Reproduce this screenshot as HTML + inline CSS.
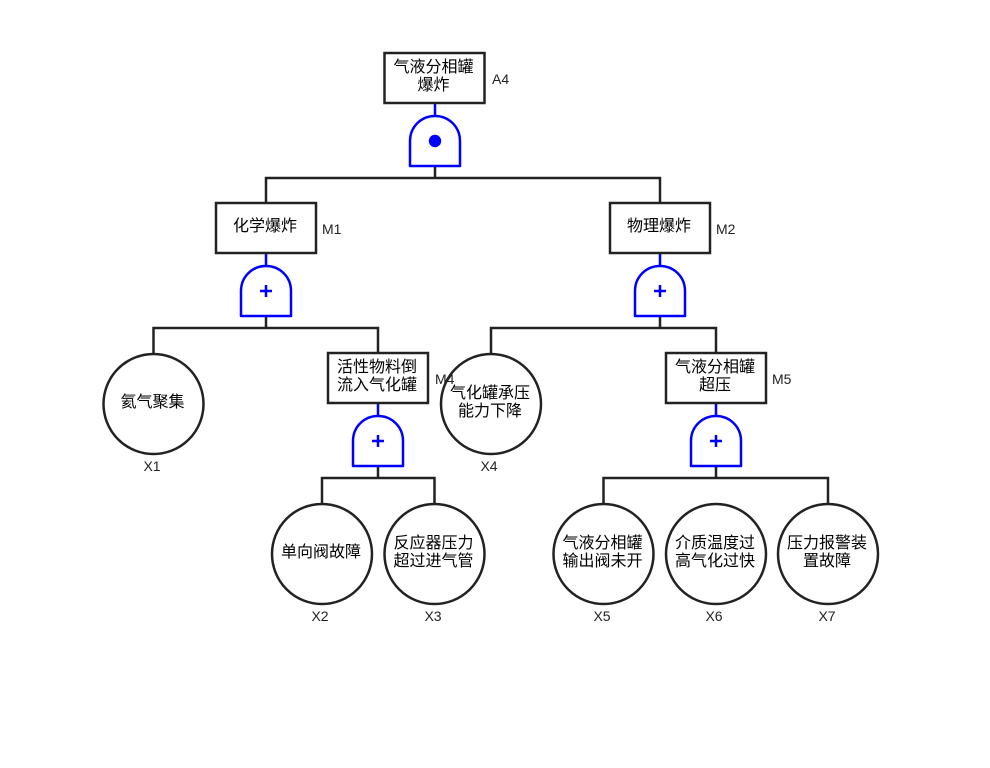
<!DOCTYPE html>
<html><head><meta charset="utf-8"><style>
html,body{margin:0;padding:0;background:#fff}
svg{display:block}
.c{font-family:"Liberation Sans","WenQuanYi Zen Hei","Noto Sans CJK SC",sans-serif;font-size:16px;fill:#000;text-anchor:middle}
.l{font-family:"Liberation Sans",sans-serif;font-size:14px;fill:#222}
.m{text-anchor:middle}
.k{fill:none;stroke:#222;stroke-width:2.5}
.b{fill:#fff;stroke:#222;stroke-width:2.5}
.g{fill:#fff;stroke:#0000ff;stroke-width:2.5;stroke-linejoin:round}
.bl{fill:none;stroke:#0000ff;stroke-width:2.5}
</style></head><body>
<svg width="990" height="768" viewBox="0 0 990 768" xmlns="http://www.w3.org/2000/svg">
<rect width="990" height="768" fill="#fff"/>
<path class="k" d="M435 166V178M266 203V178H660V203M266 316V328M153.500 354V328H378V353M660 316V328M491 354V328H716V353M378 466V478M322 504V478H434.500V504M716 466V478M603.500 504V478H828V504"/>
<path class="bl" d="M435 103V116M266 253V266M660 253V266M378 403V416M716 403V416"/>

<rect class="b" x="384.500" y="53" width="100" height="50"/>
<rect class="b" x="216" y="203" width="100" height="50"/>
<rect class="b" x="610" y="203" width="100" height="50"/>
<rect class="b" x="328" y="353" width="100" height="50"/>
<rect class="b" x="666" y="353" width="100" height="50"/>

<path class="g" d="M410 166V141C410 127 421 116 435 116C449 116 460 127 460 141V166Z"/>
<circle cx="435" cy="141" r="6.200" fill="#0000ff"/>
<path class="g" d="M241 316V291C241 277 252 266 266 266C280 266 291 277 291 291V316Z"/>
<path class="bl" d="M260 291H272M266 285V297"/>
<path class="g" d="M635 316V291C635 277 646 266 660 266C674 266 685 277 685 291V316Z"/>
<path class="bl" d="M654 291H666M660 285V297"/>
<path class="g" d="M353 466V441C353 427 364 416 378 416C392 416 403 427 403 441V466Z"/>
<path class="bl" d="M372 441H384M378 435V447"/>
<path class="g" d="M691 466V441C691 427 702 416 716 416C730 416 741 427 741 441V466Z"/>
<path class="bl" d="M710 441H722M716 435V447"/>

<circle class="b" cx="153.500" cy="404" r="50"/>
<circle class="b" cx="491" cy="404" r="50"/>
<circle class="b" cx="322" cy="554" r="50"/>
<circle class="b" cx="434.500" cy="554" r="50"/>
<circle class="b" cx="603.500" cy="554" r="50"/>
<circle class="b" cx="716" cy="554" r="50"/>
<circle class="b" cx="828" cy="554" r="50"/>

<g transform="translate(-1 0)">
<text class="c" x="434.500" y="72">气液分相罐</text>
<text class="c" x="434.500" y="90">爆炸</text>
<text class="c" x="266" y="231">化学爆炸</text>
<text class="c" x="660" y="231">物理爆炸</text>
<text class="c" x="378" y="372">活性物料倒</text>
<text class="c" x="378" y="390">流入气化罐</text>
<text class="c" x="716" y="372">气液分相罐</text>
<text class="c" x="716" y="390">超压</text>
<text class="c" x="153.500" y="407">氦气聚集</text>
<text class="c" x="491" y="398">气化罐承压</text>
<text class="c" x="491" y="416">能力下降</text>
<text class="c" x="322" y="557">单向阀故障</text>
<text class="c" x="434.500" y="548">反应器压力</text>
<text class="c" x="434.500" y="566">超过进气管</text>
<text class="c" x="603.500" y="548">气液分相罐</text>
<text class="c" x="603.500" y="566">输出阀未开</text>
<text class="c" x="716" y="548">介质温度过</text>
<text class="c" x="716" y="566">高气化过快</text>
<text class="c" x="828" y="548">压力报警装</text>
<text class="c" x="828" y="566">置故障</text>
</g>

<text class="l" x="492" y="84">A4</text>
<text class="l" x="322" y="234">M1</text>
<text class="l" x="716" y="234">M2</text>
<text class="l" x="435" y="384">M4</text>
<text class="l" x="772" y="384">M5</text>
<text class="l m" x="152" y="471">X1</text>
<text class="l m" x="489" y="471">X4</text>
<text class="l m" x="320" y="621">X2</text>
<text class="l m" x="433" y="621">X3</text>
<text class="l m" x="602" y="621">X5</text>
<text class="l m" x="714" y="621">X6</text>
<text class="l m" x="827" y="621">X7</text>
</svg>
</body></html>
